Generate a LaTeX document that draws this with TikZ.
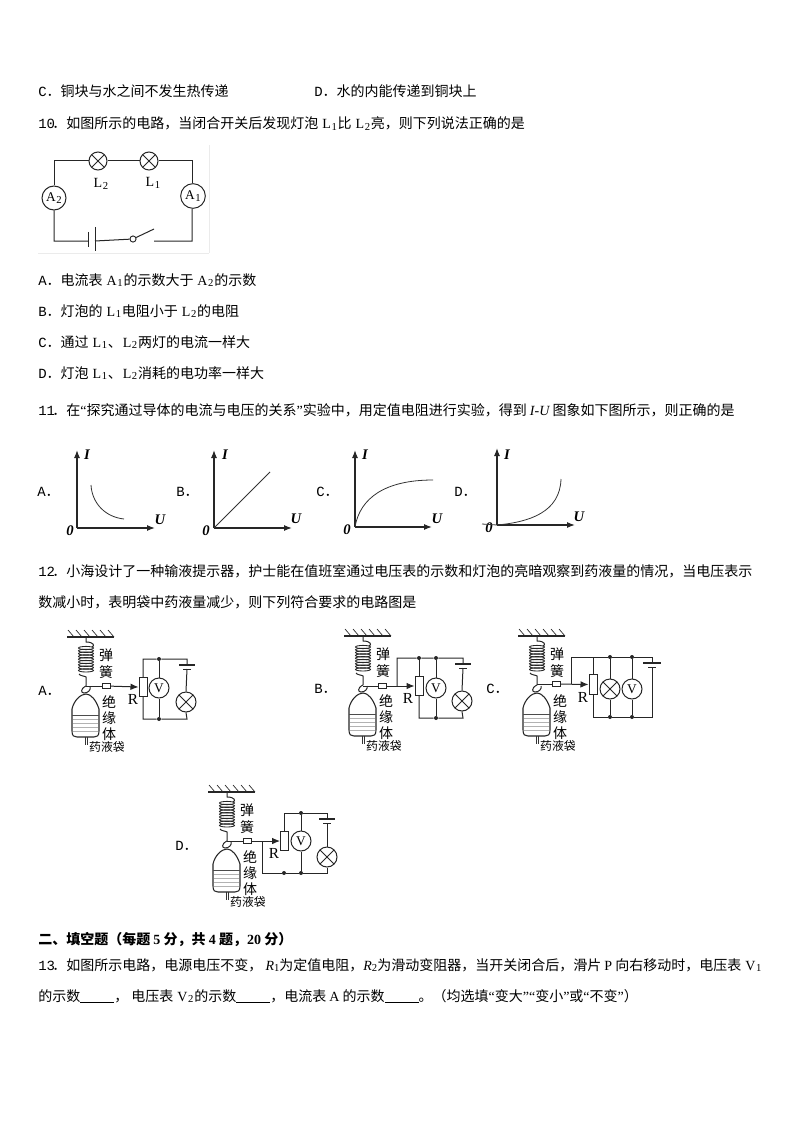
\documentclass[tikz,border=0pt]{standalone}
\usepackage{fontspec}
\usetikzlibrary{arrows.meta,calc}
\setmainfont{Noto Sans CJK SC}
\newfontfamily\mon{Liberation Mono}
\newfontfamily\tms{Liberation Serif}
\newcommand\ms[1]{{\mon #1}}
\newcommand\nm[1]{{\mon #1}\kern-2pt}
\newcommand\lsub[2]{\kern0.6pt{\tms #1\kern0.5pt\raisebox{-0.25ex}{\footnotesize #2}}\kern0.6pt}
\newcommand\blank[1]{\rule[-1.5pt]{#1}{0.7pt}}
\newcommand\lqt{{\tms “}}
\newcommand\rqt{{\tms ”}}
\tikzset{
  txt/.style={anchor=base west,inner sep=0,font=\fontsize{10.5}{12}\selectfont},
  wire/.style={line width=0.75pt,black!85},
  axis/.style={line width=0.9pt,black!85,-{Latex[length=6pt,width=4.5pt]}},
  curveline/.style={line width=0.6pt,black!80},
  lamp/.style={circle,draw=black!85,line width=0.75pt,inner sep=0,minimum size=15pt,fill=white,
    path picture={\draw[line width=0.65pt,black!85] (path picture bounding box.north west)--(path picture bounding box.south east)
      (path picture bounding box.north east)--(path picture bounding box.south west);}},
  meter/.style={circle,draw=black!85,line width=0.75pt,inner sep=0,minimum size=15pt,fill=white,font=\tms\fontsize{10}{12}\selectfont},
  rbox/.style={rectangle,draw=black!85,line width=0.75pt,inner sep=0,minimum width=6pt,minimum height=14.5pt,fill=white},
  smallbox/.style={rectangle,draw=black!85,line width=0.65pt,inner sep=0,minimum width=6pt,minimum height=3.6pt,fill=white},
  jdot/.style={circle,fill=black!85,inner sep=0,minimum size=3pt},
  graphlab/.style={inner sep=0,font=\tms\bfseries\itshape\fontsize{11}{12}\selectfont},
  optlab/.style={inner sep=0,font=\fontsize{10.5}{12}\selectfont},
  smalllab/.style={inner sep=0,font=\fontsize{10.5}{12}\selectfont},
  bagunit/.pic={
    \draw[line width=1.3pt,black!85] (-19,0)--(28,0);
    \foreach \h in {-18,-10,...,22} \draw[line width=0.5pt,black!85] (\h,-7)--(\h+6,0);
    \draw[wire] (0,0)--(0,5) .. controls (8,5) and (9,9) .. (6,10);
    \foreach \k in {11,13.8,...,36} \draw[line width=0.65pt,black!85] (0,\k) ellipse (7.5 and 1.6);
    \draw[wire] (-7,37) .. controls (-6,39) and (-1,39) .. (0,40) -- (0,49);
    \draw[wire] (0,49) .. controls (-6,52) and (-5,56) .. (-2,56) .. controls (2,56) and (5,53) .. (4,50);
    \draw[line width=0.8pt,black!85] (-14,72) .. controls (-12,63) and (-5,57) .. (0,57) .. controls (5,57) and (10,63) .. (13,72)
      -- (13,94) .. controls (13,99) and (11,100) .. (8,100) -- (-9,100) .. controls (-12,100) and (-14,99) .. (-14,94) -- cycle;
    \draw[line width=0.5pt,black!70] (-14,78)--(13,78);
    \foreach \k in {82,86,90,94} \draw[line width=0.3pt,black!30] (-13,\k)--(12,\k);
    \draw[line width=0.5pt,black!80] (-1,100)--(-1,108) (1,100)--(1,108);
    \node[smalllab] at (20,18) {弹};
    \node[smalllab] at (20,35) {簧};
    \node[smalllab] at (23,65) {绝};
    \node[smalllab] at (23,81) {缘};
    \node[smalllab] at (23,97) {体};
    \node[smalllab,font=\fontsize{8.9}{11}\selectfont] at (21,110) {药液袋};
  },
}
\begin{document}
\begin{tikzpicture}[x=0.75pt,y=-0.75pt]
\useasboundingbox (0,0) rectangle (794,1123);
% ---------- text ----------
\node[txt] (t1) at (38,97) {\ms{C}．铜块与水之间不发生热传递};
\node[txt] (t2) at (314,97) {\ms{D}．水的内能传递到铜块上};
\node[txt] (t3) at (38,129) {\nm{10}．如图所示的电路，当闭合开关后发现灯泡 \lsub{L}{1}比 \lsub{L}{2}亮，则下列说法正确的是};
\node[txt] (t4) at (38,285) {\ms{A}．电流表 \lsub{A}{1}的示数大于 \lsub{A}{2}的示数};
\node[txt] (t5) at (38,316) {\ms{B}．灯泡的 \lsub{L}{1}电阻小于 \lsub{L}{2}的电阻};
\node[txt] (t6) at (38,347) {\ms{C}．通过 \lsub{L}{1}、\lsub{L}{2}两灯的电流一样大};
\node[txt] (t7) at (38,378) {\ms{D}．灯泡 \lsub{L}{1}、\lsub{L}{2}消耗的电功率一样大};
\node[txt] (t8) at (38,415) {\nm{11}．在\lqt 探究通过导体的电流与电压的关系\rqt 实验中，用定值电阻进行实验，得到 {\tms\itshape I-U} 图象如下图所示，则正确的是};
\node[txt] (t9) at (38,576) {\nm{12}．小海设计了一种输液提示器，护士能在值班室通过电压表的示数和灯泡的亮暗观察到药液量的情况，当电压表示};
\node[txt] (t10) at (38,607) {数减小时，表明袋中药液量减少，则下列符合要求的电路图是};
\node[txt,font=\bfseries\fontsize{10.5}{12}\selectfont] (t11) at (38,944) {二、填空题（每题 {\tms 5} 分，共 {\tms 4} 题，{\tms 20} 分）};
\node[txt] (t12) at (38,970) {\nm{13}．如图所示电路，电源电压不变， {\tms\itshape R}{\tms\footnotesize\raisebox{-0.25ex}{1}}为定值电阻，{\tms\itshape R}{\tms\footnotesize\raisebox{-0.25ex}{2}}为滑动变阻器，当开关闭合后，滑片 {\tms P} 向右移动时，电压表 \lsub{V}{1}};
\node[txt] (t13) at (38,1001) {的示数\blank{25.5pt}， 电压表 \lsub{V}{2}的示数\blank{25.5pt}，电流表 {\tms A} 的示数\blank{25.5pt}。（均选填\lqt 变大\rqt\lqt 变小\rqt 或\lqt 不变\rqt）};
% ---------- Q10 circuit ----------
\draw[black!8,line width=0.6pt] (38,253)--(209,253) (209,145)--(209,253);
\node[lamp,minimum size=13.5pt] (L2) at (98,161) {};
\node[lamp,minimum size=13.5pt] (L1) at (149,161) {};
\node[meter,minimum size=18pt] (A2) at (54,198) {\lsub{A}{2}};
\node[meter,minimum size=18.5pt] (A1) at (193,196) {\lsub{A}{1}};
\coordinate (c-tl) at (54,161); \coordinate (c-tr) at (192,161);
\coordinate (c-bl) at (54,241); \coordinate (c-br) at (192,241);
\coordinate (bat-s) at (88,241); \coordinate (bat-l) at (95,241);
\node[circle,draw=black!85,line width=0.7pt,inner sep=0,minimum size=4.6pt] (sw) at (133,239) {};
\coordinate (sw-end) at (154,229); \coordinate (sw-gap) at (154,241);
\draw[wire] (A2.north)--(c-tl)--(L2.west) (L2.east)--(L1.west) (L1.east)--(c-tr)--(c-tr|-A1.north);
\draw[wire] (A2.south)--(c-bl)--(bat-s) (bat-l)--(sw) (sw)--(sw-end) (sw-gap)--(c-br)--(c-br|-A1.south);
\draw[wire] (88,232)--(88,247) (95,227)--(95,251);
\node[inner sep=0,font=\tms\fontsize{10.5}{12}\selectfont] (lL2) at (101,184) {\lsub{L}{2}};
\node[inner sep=0,font=\tms\fontsize{10.5}{12}\selectfont] (lL1) at (153,183) {\lsub{L}{1}};
% ---------- Q11 graphs ----------
\foreach \gn/\ox/\oy/\tp/\ex/\lx/\ix/\ux/\uy/\zx/\lb in {a/77/528/450/155/37/87/160/520/70/A,b/214/528/450/292/176/225/296/519/206/B,c/355/527/450/432/316/365/437/519/347/C,d/497/525/448/575/454/507/579/517/489/D}{
  \coordinate (g\gn) at (\ox,\oy);
  \coordinate (g\gn y) at (\ox,\tp);
  \coordinate (g\gn x) at (\ex,\oy);
  \draw[axis] (g\gn)--(g\gn y);
  \draw[axis] (g\gn)--(g\gn x);
  \node[graphlab] (I\gn) at (\ix,455) {I};
  \node[graphlab] (U\gn) at (\ux,\uy) {U};
  \node[graphlab] (Z\gn) at (\zx,\oy+3) {0};
  \node[optlab,anchor=west] (O\gn) at (\lx,492) {\ms{\lb}．};
}
\draw[curveline] (91,485) .. controls (92,503) and (105,517) .. (124,519);
\draw[curveline] (gb)--(270,472);
\draw[curveline] (gc) .. controls (360,498) and (385,480) .. (433,480);
\draw[curveline] (482,524)--(gd) .. controls (530,522) and (560,512) .. (561,479);
% ---------- Q12 A ----------
\pic at (86,637) {bagunit};
\node[optlab,anchor=west] (oA) at (38,691) {\ms{A}．};
\node[smallbox] (Asb) at (106,686) {};
\node[rbox] (AR) at (143,687) {};
\node[meter] (AV) at (159,688) {V};
\node[lamp] (AL) at (186,702) {};
\node[jdot] (Ad1) at (159,659) {};
\node[jdot] (Ad2) at (159,719) {};
\coordinate (Aw) at (86,686); \coordinate (Atr) at (187,659); \coordinate (Abr) at (187,719);
\coordinate (Abl) at (187,665); \coordinate (Abs) at (187,669);
\draw[wire] (Aw)--(Asb);
\draw[wire,-{Latex[length=6pt,width=5pt]}] (Asb)--(AR.west);
\draw[wire] (AR.north)--(AR.north|-Ad1)--(Ad1)--(Atr)--(Abl) (Abs)--(AL.north);
\draw[wire] (AR.south)--(AR.south|-Ad2)--(Ad2)--(Abr)--(AL.south);
\draw[wire] (Ad1)--(AV) (AV)--(Ad2);
\draw[wire,line width=1pt] (179,665)--(195,665); \draw[wire] (183,669)--(191,669);
\node[inner sep=0,font=\tms\fontsize{11.5}{12}\selectfont] (AlR) at (133,699) {R};
% ---------- Q12 B ----------
\pic at (363,636) {bagunit};
\node[optlab,anchor=west] (oB) at (314,689) {\ms{B}．};
\node[smallbox] (Bsb) at (382,686) {};
\node[rbox] (BR) at (419,686) {};
\node[meter] (BV) at (436,688) {V};
\node[lamp] (BL) at (462,701) {};
\node[jdot] (Bd1) at (419,658) {};
\node[jdot] (Bd2) at (436,658) {};
\node[jdot] (Bd3) at (436,718) {};
\coordinate (Bw) at (363,686); \coordinate (Bj) at (397,686); \coordinate (Btl) at (397,658);
\coordinate (Btr) at (463,658); \coordinate (Bbr) at (463,718); \coordinate (Bbl) at (419,718);
\coordinate (Bbat) at (463,664); \coordinate (Bbas) at (463,668);
\draw[wire] (Bw)--(Bsb);
\draw[wire,-{Latex[length=6pt,width=5pt]}] (Bsb)--(BR.west);
\draw[wire] (Bj)--(Btl)--(Bd1)--(Bd2)--(Btr)--(Bbat) (Bbas)--(BL.north) (BL.south)--(Bbr)--(Bd3)--(Bbl)--(BR.south);
\draw[wire] (BR.north)--(BR.north|-Btl);
\draw[wire] (Bd2)--(BV) (BV)--(Bd3);
\draw[wire,line width=1pt] (455,664)--(471,664); \draw[wire] (459,668)--(467,668);
\node[inner sep=0,font=\tms\fontsize{11.5}{12}\selectfont] (BlR) at (408,698) {R};
% ---------- Q12 C ----------
\pic at (537,636) {bagunit};
\node[optlab,anchor=west] (oC) at (486,689) {\ms{C}．};
\node[smallbox] (Csb) at (556,684) {};
\node[rbox] (CR) at (593,684.5) {};
\node[lamp] (CL) at (610,689) {};
\node[meter] (CV) at (632,689) {V};
\node[jdot] (Cd1) at (610,657) {};
\node[jdot] (Cd2) at (632,657) {};
\node[jdot] (Cd3) at (610,717) {};
\node[jdot] (Cd4) at (632,717) {};
\coordinate (Cw) at (537,684); \coordinate (Cj) at (571,684); \coordinate (Ctl) at (571,657);
\coordinate (Ctr) at (652,657); \coordinate (Cbr) at (652,717); \coordinate (Cbl) at (593,717);
\coordinate (Cbat) at (652,663); \coordinate (Cbas) at (652,667);
\draw[wire] (Cw)--(Csb);
\draw[wire,-{Latex[length=6pt,width=5pt]}] (Csb)--(CR.west);
\draw[wire] (Cj)--(Ctl)--(Cd1)--(Cd2)--(Ctr)--(Cbat) (Cbas)--(Cbr)--(Cd4)--(Cd3)--(Cbl)--(CR.south);
\draw[wire] (CR.north)--(CR.north|-Ctl);
\draw[wire] (Cd1)--(CL) (CL)--(Cd3) (Cd2)--(CV) (CV)--(Cd4);
\draw[wire,line width=1pt] (643,663)--(661,663); \draw[wire] (648,667)--(656,667);
\node[inner sep=0,font=\tms\fontsize{11.5}{12}\selectfont] (ClR) at (583,697) {R};
% ---------- Q12 D ----------
\pic at (227,792) {bagunit};
\node[optlab,anchor=west] (oD) at (175,846) {\ms{D}．};
\node[smallbox] (Dsb) at (247,841) {};
\node[rbox] (DR) at (284.5,841) {};
\node[meter] (DV) at (301,841) {V};
\node[lamp] (DL) at (327,857) {};
\node[jdot] (Dd1) at (301,813) {};
\node[jdot] (Dd2) at (284,873) {};
\node[jdot] (Dd3) at (301,873) {};
\coordinate (Dw) at (227,841); \coordinate (Dj) at (262,841); \coordinate (Djb) at (262,873);
\coordinate (Dtr) at (327,813); \coordinate (Dbr) at (327,873);
\coordinate (Dbat) at (327,819); \coordinate (Dbas) at (327,823);
\draw[wire] (Dw)--(Dsb);
\draw[wire,-{Latex[length=6pt,width=5pt]}] (Dsb)--(DR.west);
\draw[wire] (DR.north)--(DR.north|-Dd1)--(Dd1)--(Dtr)--(Dbat) (Dbas)--(DL.north) (DL.south)--(Dbr)--(Dd3)--(Dd2)--(Djb)--(Dj);
\draw[wire] (Dd1)--(DV) (DV)--(Dd3);
\draw[wire,line width=1pt] (319,819)--(335,819); \draw[wire] (323,823)--(331,823);
\node[inner sep=0,font=\tms\fontsize{11.5}{12}\selectfont] (DlR) at (274,853) {R};
\end{tikzpicture}
\end{document}
